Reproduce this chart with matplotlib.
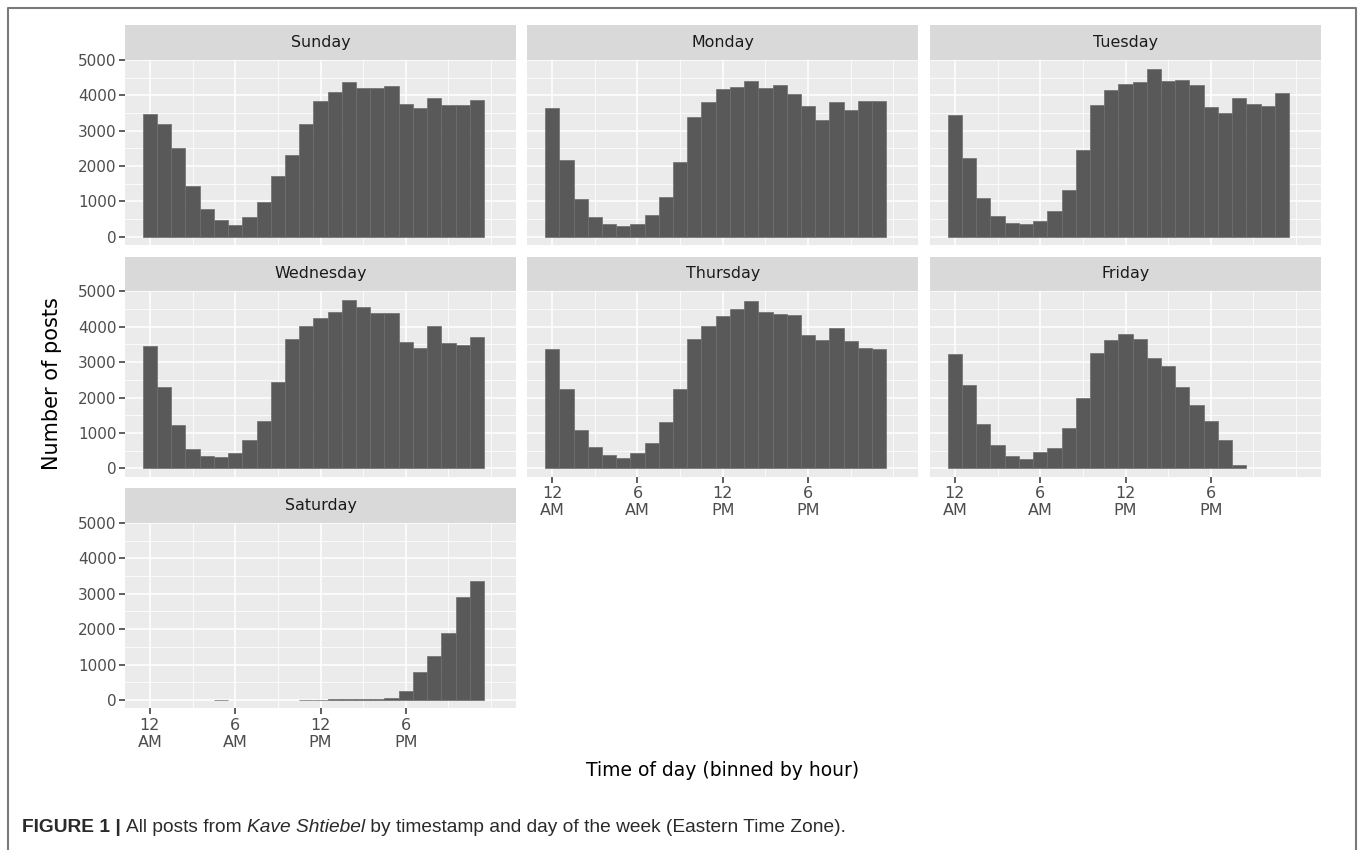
import matplotlib
matplotlib.use("Agg")
import matplotlib.pyplot as plt
from matplotlib import font_manager
import numpy as np

# posts per hour bin, hours 0..23 (Eastern time)
hours = list(range(24))
days = ["Sunday", "Monday", "Tuesday", "Wednesday", "Thursday", "Friday", "Saturday"]
sunday = [3465, 3173, 2505, 1431, 782, 461, 339, 556, 989, 1723, 2307, 3173,
          3842, 4087, 4360, 4190, 4209, 4256, 3757, 3625, 3908, 3710, 3710, 3861]
monday = [3635, 2166, 1064, 556, 348, 292, 367, 612, 1130, 2119, 3380, 3795,
          4171, 4228, 4407, 4190, 4284, 4021, 3691, 3305, 3804, 3578, 3832, 3832]
tuesday = [3427, 2213, 1083, 584, 386, 348, 443, 734, 1328, 2439, 3710, 4153,
           4313, 4360, 4746, 4388, 4426, 4284, 3672, 3503, 3917, 3748, 3701, 4058]
wednesday = [3443, 2292, 1217, 547, 349, 311, 434, 792, 1330, 2434, 3660, 4028,
             4236, 4425, 4764, 4557, 4387, 4396, 3566, 3396, 4028, 3538, 3491, 3708]
thursday = [3368, 2245, 1094, 604, 368, 302, 425, 708, 1302, 2236, 3642, 4009,
            4311, 4500, 4717, 4415, 4358, 4340, 3755, 3623, 3962, 3604, 3396, 3377]
friday = [3236, 2349, 1264, 651, 349, 255, 462, 585, 1142, 1972, 3245, 3613,
          3792, 3642, 3113, 2887, 2292, 1783, 1330, 792, 85, 0, 0, 0]
saturday = [0, 0, 0, 0, 0, 3, 0, 0, 0, 0, 0, 5,
            10, 15, 25, 30, 15, 45, 254, 789, 1241, 1898, 2895, 3365]
counts = [sunday, monday, tuesday, wednesday, thursday, friday, saturday]

xbreaks = [0, 6, 12, 18]
xlabels = ["12\nAM", "6\nAM", "12\nPM", "6\nPM"]
ybreaks = [0, 1000, 2000, 3000, 4000, 5000]

W, H = 1358, 850
fig = plt.figure(figsize=(W / 100, H / 100), dpi=100)

def rect(x0, y0, x1, y1):
    return [x0 / W, 1 - y1 / H, (x1 - x0) / W, (y1 - y0) / H]

cols = [125, 527.3, 930]
pw = 391
rows = [(25, 59.5, 245), (256.6, 291, 476.7), (488.3, 522.7, 708.3)]

for i, day in enumerate(days):
    r, c = divmod(i, 3)
    x0 = cols[c]
    s0, p0, p1 = rows[r]

    st = fig.add_axes(rect(x0, s0, x0 + pw, p0))
    st.set_facecolor("#D9D9D9")
    st.set_xticks([]); st.set_yticks([])
    for sp in st.spines.values():
        sp.set_visible(False)
    st.text(0.5, 0.5, day, ha="center", va="center", fontsize=11.4, color="#1A1A1A",
            transform=st.transAxes)

    ax = fig.add_axes(rect(x0, p0, x0 + pw, p1))
    ax.set_facecolor("#EBEBEB")
    for sp in ax.spines.values():
        sp.set_visible(False)
    # empty bins get no outline, as in ggplot
    edges = ["#6E6E6E" if v > 0 else "none" for v in counts[i]]
    ax.bar(hours, counts[i], width=1.0, color="#595959", edgecolor=edges,
           linewidth=0.5, zorder=3)
    ax.set_xlim(-1.75, 25.75)
    ax.set_ylim(-238, 5010)

    ax.set_xticks(xbreaks)
    ax.set_xticks([3, 9, 15, 21, 24], minor=True)
    ax.set_yticks(ybreaks)
    ax.set_yticks([500, 1500, 2500, 3500, 4500], minor=True)
    ax.grid(which="major", color="white", linewidth=1.1, zorder=0)
    ax.grid(which="minor", color="white", linewidth=0.55, zorder=0)
    ax.set_axisbelow(True)
    ax.tick_params(which="minor", length=0)

    bottom = i >= 4
    left = c == 0
    ax.tick_params(axis="x", which="major", length=4 if bottom else 0, width=1.1,
                   color="#333333", labelcolor="#4D4D4D", labelsize=11.5, pad=3,
                   labelbottom=bottom)
    ax.tick_params(axis="y", which="major", length=4 if left else 0, width=1.1,
                   color="#333333", labelcolor="#4D4D4D", labelsize=11, pad=2,
                   labelleft=left)
    if bottom:
        ax.set_xticklabels(xlabels, linespacing=1.15)
    ax.set_yticklabels([str(v) for v in ybreaks])

# axis titles
fig.text(723 / W, 1 - 771 / H, "Time of day (binned by hour)", ha="center", va="center",
         fontsize=13.5, color="black")
fig.text(52 / W, 1 - 384 / H, "Number of posts", ha="center", va="center",
         rotation=90, fontsize=15, color="black")

# frame around figure (open at bottom)
fig.add_artist(plt.Line2D([7.5 / W, 7.5 / W, 1355.5 / W, 1355.5 / W],
                          [0, 1 - 8 / H, 1 - 8 / H, 0], color="#7A7A7A", linewidth=1.5))

# caption with mixed styles
names = {f.name for f in font_manager.fontManager.ttflist}
cap_font = "Liberation Sans" if "Liberation Sans" in names else "DejaVu Sans"
pieces = [("FIGURE 1 | ", "bold", "normal"),
          ("All posts from ", "normal", "normal"),
          ("Kave Shtiebel", "normal", "italic"),
          (" by timestamp and day of the week (Eastern Time Zone).", "normal", "normal")]
renderer = fig.canvas.get_renderer()
xpos = 22
for txt, wt, stl in pieces:
    t = fig.text(xpos / W, 1 - 827 / H, txt, ha="left", va="center", fontsize=13.8,
                 family=cap_font, weight=wt, style=stl, color="#2A2A2A")
    bb = t.get_window_extent(renderer=renderer)
    xpos += bb.width

fig.savefig("out.png", dpi=100)
